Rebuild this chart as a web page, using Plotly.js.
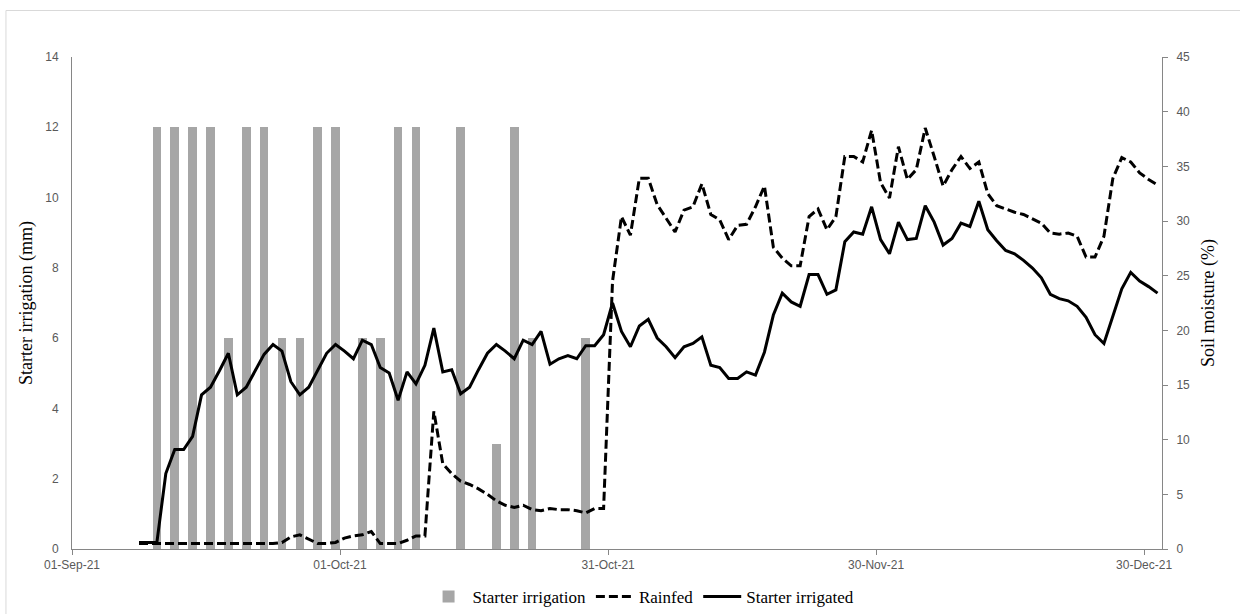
<!DOCTYPE html>
<html>
<head>
<meta charset="utf-8">
<script src="https://cdn.plot.ly/plotly-3.0.1.min.js"></script>
<style>html,body{margin:0;padding:0;background:#fff;}#chart{width:1240px;height:614px;}</style>
</head>
<body>
<div id="chart"></div>
<script>
// Starter irrigation events (mm)
const irrigationDates = ['2021-09-10','2021-09-12','2021-09-14','2021-09-16','2021-09-18','2021-09-20','2021-09-22','2021-09-24','2021-09-26','2021-09-28','2021-09-30','2021-10-03','2021-10-05','2021-10-07','2021-10-09','2021-10-14','2021-10-18','2021-10-20','2021-10-22','2021-10-28'];
const irrigationMm = [12,12,12,12,6,12,12,6,6,12,12,6,6,12,12,12,3,12,6,6];

// Daily soil moisture (%) from 08-Sep-21 to 31-Dec-21
const moistureStart = '2021-09-08';
const rainfed = [
  0.5,0.5,0.5,0.5,0.5,0.5,0.5,0.5,0.5,0.5,0.5,0.5,0.5,0.5,0.5,0.5,0.6,1.1,1.3,0.9,0.5,0.5,0.6,
  1.0,1.2,1.3,1.6,0.5,0.5,0.5,0.8,1.2,1.2,12.6,7.8,6.9,6.2,5.9,5.5,5.0,4.4,4.0,3.8,4.0,3.6,3.5,3.7,3.6,3.6,3.5,3.3,3.7,3.7,24.5,
  30.4,28.7,33.9,33.9,31.5,30.2,29.0,31.0,31.3,33.4,30.6,30.1,28.3,29.6,29.7,31.3,33.2,27.6,26.6,25.9,25.9,30.4,31.1,29.2,30.4,35.9,35.9,35.4,38.3,33.5,
  32.1,36.8,33.8,34.7,38.5,35.9,33.2,34.7,35.9,34.8,35.4,32.5,31.4,31.1,30.8,30.6,30.2,29.8,28.9,28.8,28.9,28.6,26.7,26.7,28.6,33.9,35.8,35.4,34.4,33.8,33.3
];
const starterIrrigated = [
  0.6,0.6,0.6,6.9,9.1,9.1,10.3,14.1,14.8,16.3,17.9,14.1,14.8,16.3,17.8,18.7,18.1,15.3,14.1,14.8,16.3,17.9,18.7,
  18.1,17.4,19.1,18.7,16.6,16.1,13.6,16.2,15.1,16.8,20.2,16.2,16.4,14.2,14.8,16.4,17.9,18.7,18.1,17.4,19.1,18.7,19.9,16.9,17.4,17.7,17.4,18.6,18.6,19.6,22.5,
  19.9,18.5,20.4,21.0,19.3,18.5,17.5,18.5,18.8,19.4,16.8,16.6,15.6,15.6,16.2,15.9,18.0,21.4,23.4,22.6,22.2,25.1,25.1,23.3,23.7,28.1,29.0,28.8,31.3,28.3,
  27.0,29.9,28.3,28.4,31.4,29.9,27.8,28.4,29.8,29.5,31.8,29.2,28.2,27.3,27.0,26.4,25.7,24.8,23.3,22.9,22.7,22.2,21.2,19.6,18.8,21.3,23.8,25.3,24.5,24.0,23.4
];

const xTickVals = ['2021-09-01','2021-10-01','2021-10-31','2021-11-30','2021-12-30'];
const xTickText = ['01-Sep-21','01-Oct-21','31-Oct-21','30-Nov-21','30-Dec-21'];

const DAY = 86400000;
const tickFont = {family: 'Liberation Sans, Arial, sans-serif', size: 12, color: '#595959'};
const serif = 'Liberation Serif, Times New Roman, serif';
const axisColor = '#868686';

const traces = [
  {
    type: 'bar', name: 'Starter irrigation',
    x: irrigationDates, y: irrigationMm,
    xperiod: DAY, xperiodalignment: 'middle',
    width: 0.96 * DAY,
    marker: {color: '#A6A6A6', line: {width: 0}},
    yaxis: 'y'
  },
  {
    type: 'scatter', mode: 'lines', name: 'Rainfed',
    x0: moistureStart, dx: DAY, y: rainfed,
    xperiod: DAY, xperiodalignment: 'middle',
    line: {color: '#000', width: 3, dash: '9px,4px'},
    yaxis: 'y2'
  },
  {
    type: 'scatter', mode: 'lines', name: 'Starter irrigated',
    x0: moistureStart, dx: DAY, y: starterIrrigated,
    xperiod: DAY, xperiodalignment: 'middle',
    line: {color: '#000', width: 3},
    yaxis: 'y2'
  }
];

const layout = {
  width: 1240, height: 614,
  margin: {l: 72, r: 78, t: 57, b: 65},
  paper_bgcolor: '#fff', plot_bgcolor: '#fff',
  showlegend: true,
  legend: {
    orientation: 'h', x: 0.523, xanchor: 'center',
    yref: 'container', y: 0.0277, yanchor: 'middle',
    font: {family: serif, size: 17, color: '#000'},
    itemwidth: 38, tracegroupgap: 0, bgcolor: 'rgba(0,0,0,0)'
  },
  bargap: 0,
  xaxis: {
    type: 'date', range: ['2021-09-01', '2022-01-01'],
    tickmode: 'array', tickvals: xTickVals, ticktext: xTickText,
    ticks: 'outside', ticklen: 5, tickcolor: axisColor, tickwidth: 1,
    showline: true, linecolor: axisColor, linewidth: 1,
    showgrid: false, zeroline: false, tickfont: tickFont
  },
  yaxis: {
    range: [0, 14], dtick: 2, tick0: 0,
    ticks: '', showline: true, linecolor: axisColor, linewidth: 1,
    showgrid: false, zeroline: false, tickfont: tickFont,
    ticklabelstandoff: 10,
    title: {text: 'Starter irrigation (mm)', font: {family: serif, size: 18, color: '#000'}, standoff: 7}
  },
  yaxis2: {
    range: [0, 45], dtick: 5, tick0: 0,
    overlaying: 'y', side: 'right', anchor: 'x',
    ticks: 'outside', ticklen: 5, tickcolor: axisColor, tickwidth: 1,
    showline: true, linecolor: axisColor, linewidth: 1,
    showgrid: false, zeroline: false, tickfont: tickFont,
    ticklabelstandoff: 6,
    title: {text: 'Soil moisture (%)', font: {family: serif, size: 18, color: '#000'}, standoff: 12}
  },
  shapes: [{
    type: 'rect', xref: 'paper', yref: 'paper',
    x0: -0.0606, x1: 1.2, y0: -0.3, y1: 1.0945,
    line: {color: '#d9d9d9', width: 1}, fillcolor: 'rgba(0,0,0,0)', layer: 'below'
  }]
};

Plotly.newPlot('chart', traces, layout, {displayModeBar: false, staticPlot: true});
</script>
</body>
</html>
